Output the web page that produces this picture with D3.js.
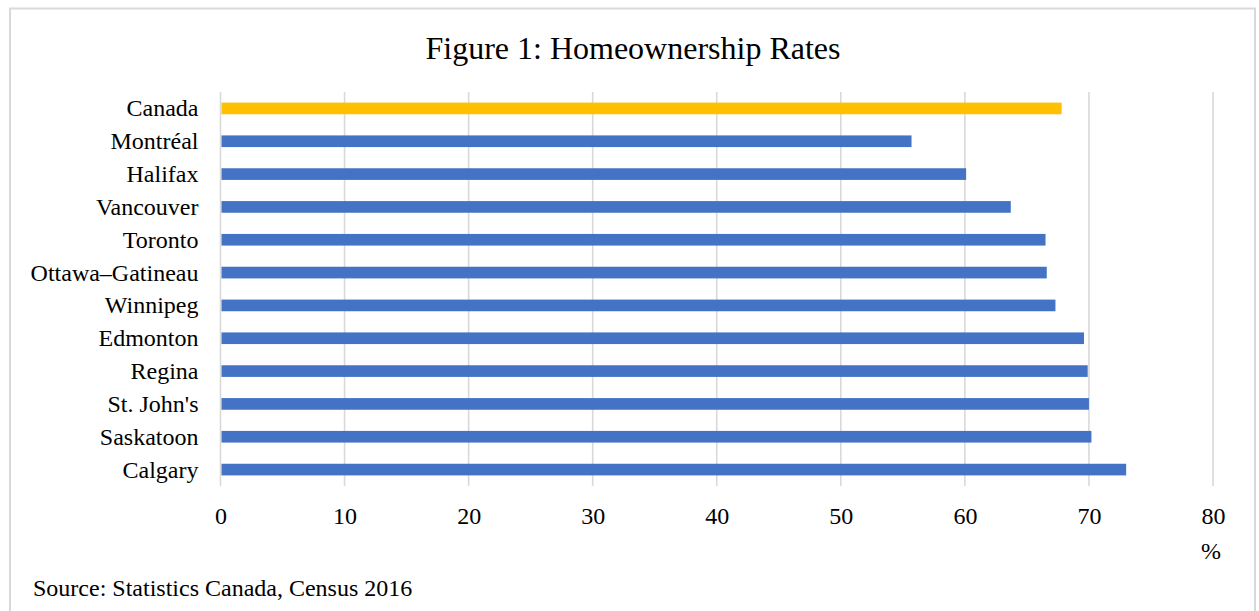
<!DOCTYPE html>
<html>
<head>
<meta charset="utf-8">
<script src="https://cdn.jsdelivr.net/npm/d3@7"></script>
<style>
  body { margin: 0; background: #fff; }
  svg text { font-family: "Liberation Serif", "Times New Roman", serif; fill: #000; }
</style>
</head>
<body>
<div id="chart"></div>
<script>
var width = 1259,
	height = 611;

// data
var cities = ["Canada", "Montréal", "Halifax", "Vancouver", "Toronto", "Ottawa–Gatineau",
  "Winnipeg", "Edmonton", "Regina", "St. John's", "Saskatoon", "Calgary"];
var rates = [67.8, 55.7, 60.1, 63.7, 66.5, 66.6, 67.3, 69.6, 69.9, 70.0, 70.2, 73.0];
var xTicks = [0, 10, 20, 30, 40, 50, 60, 70, 80];

var svg = d3.select("#chart").append("svg").attr("width", width).attr("height", height);

// outer frame
svg.append("rect")
  .attr("x", 10).attr("y", 8.5)
  .attr("width", 1245).attr("height", 620)
  .attr("fill", "none")
  .attr("stroke", "#d9d9d9")
  .attr("stroke-width", 2);

var margin = {left: 220.5, right: 1213, top: 92, bottom: 486};

var x = d3.scaleLinear().domain([0, 80]).range([margin.left, margin.right]);
var y = d3.scaleBand().domain(cities).range([margin.top, margin.bottom]).paddingInner(0.645).paddingOuter(0.3225);

svg.append("text")
  .attr("x", 633).attr("y", 59)
  .attr("text-anchor", "middle")
  .style("font-size", "32px")
  .text("Figure 1: Homeownership Rates");

// gridlines
svg.append("g")
  .selectAll("line")
  .data(xTicks)
  .enter().append("line")
  .attr("x1", function(d) { return x(d); })
  .attr("x2", function(d) { return x(d); })
  .attr("y1", margin.top)
  .attr("y2", margin.bottom)
  .attr("stroke", "#d9d9d9")
  .attr("stroke-width", 1.6);

// bars
svg.append("g")
  .selectAll("rect")
  .data(cities)
  .enter().append("rect")
  .attr("x", x(0) + 1)
  .attr("y", function(d) { return y(d); })
  .attr("width", function(d, i) { return x(rates[i]) - x(0) - 1; })
  .attr("height", y.bandwidth())
  .attr("fill", function(d, i) { return i === 0 ? "#ffc000" : "#4472c4"; });

// category labels
var yAxis = svg.append("g")
  .attr("transform", "translate(" + (margin.left - 1) + ",0)")
  .call(d3.axisLeft(y).tickSize(0).tickPadding(21));
yAxis.select(".domain").remove();
yAxis.selectAll("text").style("font-size", "24px").attr("dy", "0.33em");

// value axis labels
var xAxis = svg.append("g")
  .attr("transform", "translate(0," + margin.bottom + ")")
  .call(d3.axisBottom(x).tickValues(xTicks).tickSize(0).tickPadding(21));
xAxis.select(".domain").remove();
xAxis.selectAll("text").style("font-size", "24px").attr("dy", "0.71em");

svg.append("text")
  .attr("x", x(80) - 2).attr("y", 559)
  .attr("text-anchor", "middle")
  .style("font-size", "24px")
  .text("%");

svg.append("text")
  .attr("x", 33).attr("y", 596)
  .style("font-size", "24px")
  .text("Source: Statistics Canada, Census 2016");
</script>
</body>
</html>
